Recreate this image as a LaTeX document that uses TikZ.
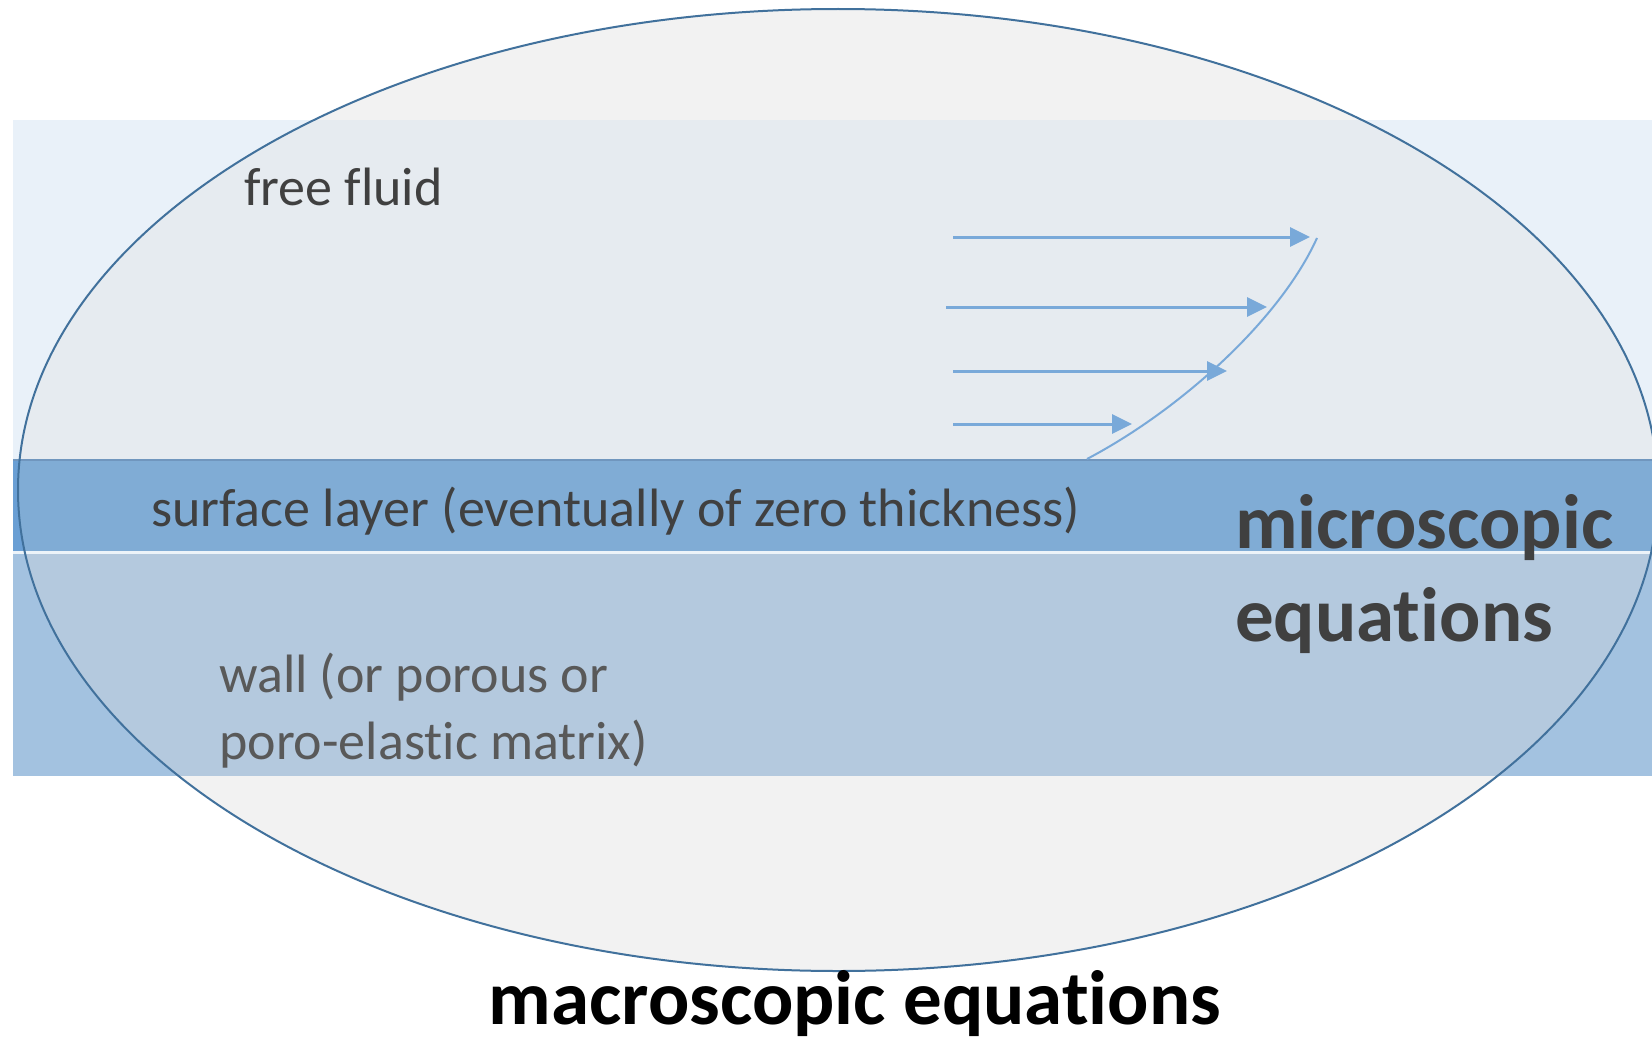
\documentclass[tikz,border=0pt]{standalone}
\usepackage{fontspec}
\setmainfont{Carlito}[Ligatures=NoCommon, RawFeature={-liga;-dlig;-calt}]
\usetikzlibrary{arrows.meta}
\definecolor{ellfill}{HTML}{F2F2F2}
\definecolor{ellline}{HTML}{41719C}
\definecolor{fluidout}{HTML}{E9F1F9}
\definecolor{fluidin}{HTML}{E6EBF0}
\definecolor{surfout}{HTML}{6A9FD4}
\definecolor{surfin}{HTML}{80ACD5}
\definecolor{surfline}{HTML}{7096BE}
\definecolor{wallout}{HTML}{A3C2E0}
\definecolor{wallin}{HTML}{B4C9DE}
\definecolor{arrowc}{HTML}{79A9D9}
\definecolor{txtdark}{HTML}{404040}
\definecolor{txtgray}{HTML}{595959}
\begin{document}
\begin{tikzpicture}[x=1pt,y=-1pt,
  flow/.style={draw=arrowc, line width=3pt, -{Triangle[length=20pt,width=19pt]}},
  profile/.style={draw=arrowc, line width=2pt},
  lbl/.style={anchor=base west, inner sep=0pt, text=txtdark},
  biglbl/.style={inner sep=0pt, font=\fontsize{77}{90}\selectfont\bfseries}]
\useasboundingbox (0,0) rectangle (1652,1041);
\fill[white] (0,0) rectangle (1652,1041);
\fill[ellfill] (838,490) ellipse [x radius=820, y radius=481];
\fill[fluidout] (13,120) rectangle (1652,460);
\fill[surfout] (13,460) rectangle (1652,551);
\fill[white!85!surfin] (13,551) rectangle (1652,554);
\fill[wallout] (13,554) rectangle (1652,776);
\begin{scope}
  \clip (838,490) ellipse [x radius=820, y radius=481];
  \fill[fluidin] (13,120) rectangle (1652,460);
  \fill[surfin] (13,460) rectangle (1652,551);
  \fill[wallin] (13,554) rectangle (1652,776);
\end{scope}
\draw[surfline, line width=1.5pt] (13,460) -- (1652,460);
\draw[ellline, line width=2pt] (838,490) ellipse [x radius=820, y radius=481];

% velocity profile
\coordinate (a1s) at (953,237); \coordinate (a1e) at (1310,237);
\coordinate (a2s) at (946,307); \coordinate (a2e) at (1267,307);
\coordinate (a3s) at (953,371); \coordinate (a3e) at (1227,371);
\coordinate (a4s) at (953,424); \coordinate (a4e) at (1132,424);
\draw[flow] (a1s) -- (a1e);
\draw[flow] (a2s) -- (a2e);
\draw[flow] (a3s) -- (a3e);
\draw[flow] (a4s) -- (a4e);
\coordinate (p0) at (1087,459);
\coordinate (p1) at (1317,238);
\draw[profile] (p0) .. controls (1180,410) and (1280,320) .. (p1);

% labels
\node[lbl, font=\fontsize{54}{64}\selectfont] (ff) at (244,205) {free fluid};
\node[lbl, font=\fontsize{54}{64}\selectfont] (sl) at (151,526) {surface layer (eventually of zero thickness)};
\node[lbl, text=txtgray, font=\fontsize{54}{64}\selectfont] (w1) at (219,692) {wall (or porous or};
\node[lbl, text=txtgray, font=\fontsize{54}{64}\selectfont] (w2) at (219,759) {poro-elastic matrix)};
\node[biglbl, anchor=base west, text=txtdark] (mi1) at (1235,548) {microscopic};
\node[biglbl, anchor=base west, text=txtdark] (mi2) at (1235,641) {equations};
\node[biglbl, anchor=base, text=black] (ma) at (855,1024) {macroscopic equations};
\end{tikzpicture}
\end{document}
